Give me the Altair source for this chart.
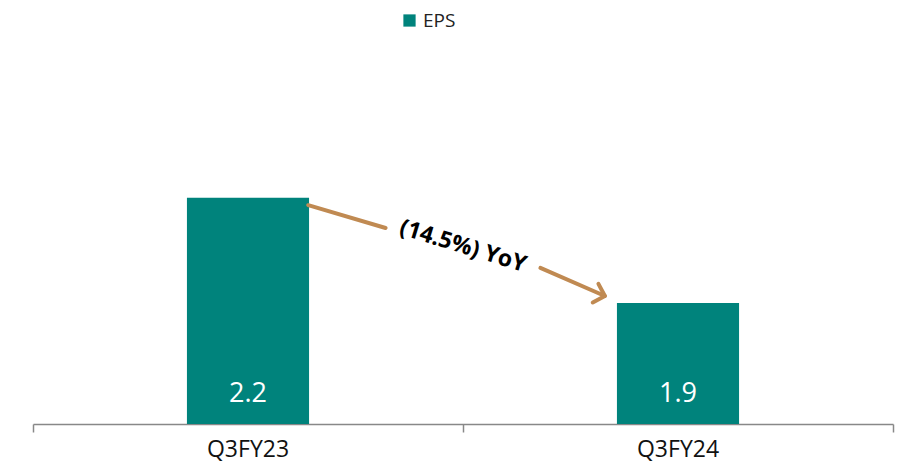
import altair as alt
import pandas as pd

quarters = ["Q3FY23", "Q3FY24"]
eps = [2.2, 1.9]
labels = ["2.2", "1.9"]
series = ["EPS", "EPS"]

# annotation (arrow + text) in a category-step coordinate (0..2)
arrow1_x = [0.64, 0.82]
arrow1_y = [2.179, 2.114]
arrow2_x = [1.18, 1.33]
arrow2_y = [2.000, 1.920]
note_text = ["(14.5%) YoY"]
note_x = [1.0]
note_y = [2.062]
boundary_ticks = [0, 1, 2]

Y_MIN, Y_MAX = 1.555, 2.65
TEAL = "#00837C"
BROWN = "#C08A52"
FONT = "Open Sans"

bars_df = pd.DataFrame({"quarter": quarters, "eps": eps, "label": labels, "series": series})
a1 = pd.DataFrame({"ax": arrow1_x, "ay": arrow1_y})
a2 = pd.DataFrame({"ax": arrow2_x, "ay": arrow2_y})
head = pd.DataFrame({"ax": arrow2_x[-1:], "ay": arrow2_y[-1:]})
note = pd.DataFrame({"ax": note_x, "ay": note_y, "t": note_text})

yscale = alt.Scale(domain=[Y_MIN, Y_MAX], zero=False, nice=False)
xband = alt.Scale(paddingInner=0.716, paddingOuter=0.358)

base = alt.Chart(bars_df)
bars = base.mark_bar(color=TEAL, clip=True).encode(
    x=alt.X("quarter:N", scale=xband, sort=quarters,
            axis=alt.Axis(title=None, labelAngle=0, labelFont=FONT, labelFontSize=23,
                          labelColor="#111111", labelPadding=14, ticks=False,
                          orient="bottom", domainColor="#888888", domainWidth=1.5)),
    y=alt.Y("eps:Q", scale=yscale, axis=None),
    fill=alt.Fill("series:N", scale=alt.Scale(range=[TEAL]),
                  legend=alt.Legend(title=None, orient="none", legendX=367, legendY=-29,
                                    symbolType="square", symbolSize=150,
                                    labelFont=FONT, labelFontSize=19, labelColor="#222222")),
)
vals = base.mark_text(color="white", font=FONT, fontSize=27, baseline="middle", dy=-30).encode(
    x=alt.X("quarter:N", scale=xband, sort=quarters),
    y=alt.datum(Y_MIN, scale=yscale),
    text="label:N",
)
cat_layer = alt.layer(bars, vals)

xq = alt.Scale(domain=[0, 2], nice=False, zero=False)
tick_axis = alt.Axis(title=None, orient="bottom", values=boundary_ticks, labels=False,
                     domain=False, grid=False, tickColor="#888888", tickWidth=1.5, tickSize=8)
l1 = alt.Chart(a1).mark_line(color=BROWN, strokeWidth=4, strokeCap="round").encode(
    x=alt.X("ax:Q", scale=xq, axis=tick_axis), y=alt.Y("ay:Q", scale=yscale))
l2 = alt.Chart(a2).mark_line(color=BROWN, strokeWidth=4, strokeCap="round").encode(
    x=alt.X("ax:Q", scale=xq), y=alt.Y("ay:Q", scale=yscale))
hd = alt.Chart(head).mark_point(shape="M-1,-1L0,0L-1,1", filled=False, color=BROWN,
                                strokeWidth=4, size=380, angle=17, opacity=1,
                                strokeCap="round", strokeJoin="round").encode(
    x=alt.X("ax:Q", scale=xq), y=alt.Y("ay:Q", scale=yscale))
txt = alt.Chart(note).mark_text(font=FONT, fontSize=23, fontWeight="bold", angle=17,
                                color="#000000", baseline="middle").encode(
    x=alt.X("ax:Q", scale=xq), y=alt.Y("ay:Q", scale=yscale), text="t:N")
ann = alt.layer(l1, l2, hd, txt)

chart = alt.layer(cat_layer, ann).resolve_scale(x="independent").properties(
    width=860, height=384,
    background="white",
    autosize=alt.AutoSizeParams(type="none"),
    padding={"left": 25, "top": 32, "right": 3, "bottom": 39},
).configure_view(strokeWidth=0, stroke="transparent")

chart.save("out.html", embed_options={"renderer": "svg", "actions": False})
